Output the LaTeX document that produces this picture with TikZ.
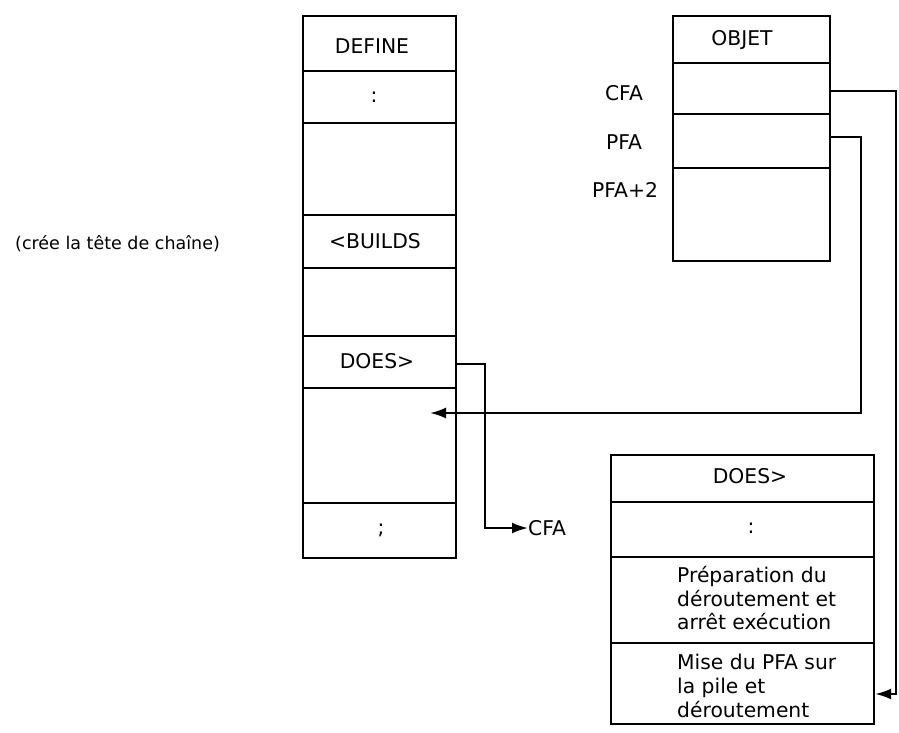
\documentclass[tikz,border=0pt]{standalone}
\usepackage{fontspec}
\setmainfont{DejaVu Sans}
\usetikzlibrary{arrows.meta}
\begin{document}
\begin{tikzpicture}[x=1pt,y=-1pt,
  every node/.style={font=\fontsize{20.3}{23.7}\selectfont},
  cell/.style={draw,line width=2.2pt,inner sep=0pt,anchor=north west},
  lbl/.style={inner sep=0pt},
  arr/.style={line width=2.2pt,-{Latex[length=16pt,width=11pt]}}]
\useasboundingbox (0,0) rectangle (899,733);
% DEFINE column
\node[cell,minimum width=153pt,minimum height=55pt] (d1) at (302,15) {};
\node[cell,minimum width=153pt,minimum height=52pt] (d2) at (302,70) {};
\node[cell,minimum width=153pt,minimum height=92pt] (d3) at (302,122) {};
\node[cell,minimum width=153pt,minimum height=53pt] (d4) at (302,214) {};
\node[cell,minimum width=153pt,minimum height=68pt] (d5) at (302,267) {};
\node[cell,minimum width=153pt,minimum height=52pt] (d6) at (302,335) {};
\node[cell,minimum width=153pt,minimum height=115pt] (d7) at (302,387) {};
\node[cell,minimum width=153pt,minimum height=55pt] (d8) at (302,502) {};
\node[lbl] (t1) at (372,46) {DEFINE};
\node[lbl] (t2) at (374,97) {:};
\node[lbl] (t4) at (375,241) {<BUILDS};
\node[lbl] (t6) at (377,361) {DOES>};
\node[lbl] (t8) at (381,530) {;};
\node[lbl,anchor=west,font=\fontsize{17.5}{21}\selectfont] (cree) at (15,244) {(crée la tête de chaîne)};
% OBJET
\node[cell,minimum width=157pt,minimum height=47pt] (o1) at (672,15) {};
\node[cell,minimum width=157pt,minimum height=51pt] (o2) at (672,62) {};
\node[cell,minimum width=157pt,minimum height=54pt] (o3) at (672,113) {};
\node[cell,minimum width=157pt,minimum height=93pt] (o4) at (672,167) {};
\node[lbl] (to1) at (742,40) {OBJET};
\node[lbl] (lcfa) at (624,93) {CFA};
\node[lbl] (lpfa) at (624,142) {PFA};
\node[lbl] (lpfa2) at (625,190) {PFA+2};
% lower DOES> box
\node[cell,minimum width=263pt,minimum height=47pt] (b1) at (610,454) {};
\node[cell,minimum width=263pt,minimum height=55pt] (b2) at (610,501) {};
\node[cell,minimum width=263pt,minimum height=86pt] (b3) at (610,556) {};
\node[cell,minimum width=263pt,minimum height=81pt] (b4) at (610,642) {};
\node[lbl] (tb1) at (750,476) {DOES>};
\node[lbl] (tb2) at (751,528) {:};
\node[lbl,anchor=north west,align=left] (tb3) at (677,566) {Préparation du\\déroutement et\\arrêt exécution};
\node[lbl,anchor=north west,align=left] (tb4) at (677,654) {Mise du PFA sur\\la pile et\\déroutement};
% connector DOES> -> CFA
\node[lbl,anchor=west] (cfaout) at (528,528) {CFA};
\coordinate (k1) at (485,364);
\draw[arr] (d6.east |- k1) -- (k1) |- (cfaout.west);
% connector CFA of OBJET -> lower box
\coordinate (c1) at (896,91);
\coordinate (c2) at (896,694);
\draw[arr] (o2.east |- c1) -- (c1) -- (c2) -- (c2 -| b4.east);
% connector PFA of OBJET -> DEFINE
\coordinate (p1) at (861,137);
\coordinate (p2) at (861,413);
\coordinate (tgt) at (430,413);
\draw[arr] (o3.east |- p1) -- (p1) -- (p2) -- (tgt);
\end{tikzpicture}
\end{document}
